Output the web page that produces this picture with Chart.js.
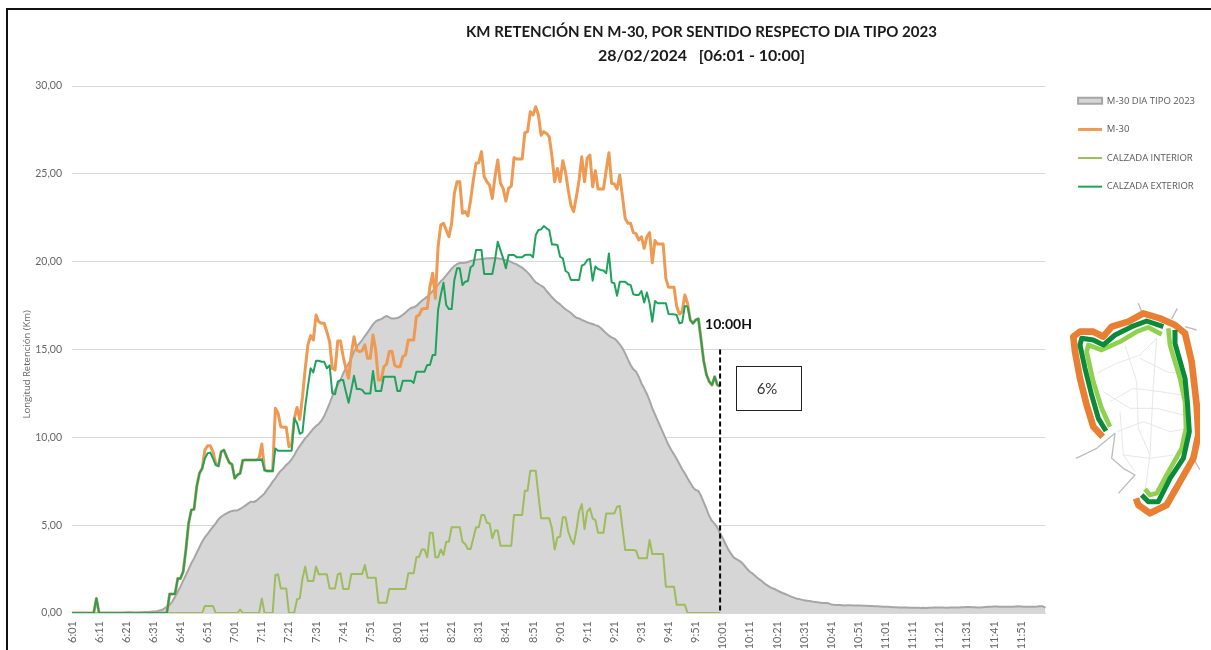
<!DOCTYPE html>
<html>
<head>
<meta charset="utf-8">
<script src="https://cdn.jsdelivr.net/npm/chart.js@4/dist/chart.umd.min.js"></script>
<style>
html,body{margin:0;padding:0;background:#fff;width:1211px;height:650px;overflow:hidden}
#wrap{position:relative;width:1211px;height:650px}
canvas{position:absolute;left:0;top:0}
#frame{position:absolute;left:6px;top:8px;right:-4px;bottom:-4px;border:2px solid #111;box-sizing:border-box;pointer-events:none}
#map{position:absolute;left:1060px;top:295px;width:140px;height:225px;filter:blur(.5px)}
</style>
</head>
<body>
<div id="wrap">
<canvas id="c" width="1211" height="650"></canvas>
<div id="frame"></div>
<svg id="map" viewBox="0 0 420 675" fill="none" stroke-linecap="butt" stroke-linejoin="round">
  <g stroke="#e2e2e2" stroke-width="2.5">
    <path d="M110 235L170 205L240 180L290 130M150 320L220 280L300 290L365 300M170 410L250 380L330 410L385 400M195 150L230 260L235 400L270 480L255 590M290 130L280 270L270 480M190 480L270 490L340 480M180 350L190 480L225 530M130 290L210 340L290 340L370 360M240 190L320 230L355 235"/>
  </g>
  <g stroke="#bdbdbd" stroke-width="4">
    <path d="M48 490L110 460L165 415L155 490L190 520L225 540L175 595M235 25L245 50M352 40L335 72M375 95L410 105M400 490L420 525M250 640L255 655"/>
  </g>
  <path stroke="#e87f33" stroke-width="20" d="M128 425L100 395L80 330L60 250L45 170L40 125L60 110L100 110L130 125L155 95L205 80L250 55L300 70L345 90L375 115L395 200L410 330L415 420L400 490L360 560L320 630L270 655L235 630L228 610"/>
  <path stroke="#8fd14f" stroke-width="14" d="M150 395L125 340L100 260L80 170L85 150L125 165L180 140L230 110L265 97L305 118M325 100L330 150L360 250L375 320L378 400L365 460L320 540L290 595L270 600L255 582"/>
  <path stroke="#0b8a3a" stroke-width="15" d="M138 408L115 370L95 300L75 220L60 150L65 130L100 135L130 150L165 120L215 95L260 78L310 95M345 105L345 145L375 250L382 320L388 410L370 490L330 550L295 620L265 620L245 600"/>
</svg>
</div>
<script>
const titleLine = "KM RETENCIÓN EN M-30, POR SENTIDO RESPECTO DIA TIPO 2023";
const subtitleLine = "28/02/2024   [06:01 - 10:00]";
const yAxisTitle = "Longitud Retención (Km)";
const cutLabel = "10:00H";
const pctLabel = "6%";
const cutTime = "10:00";
const cutTop = 15;

const times = [];
for (let h = 6; h < 12; h++) for (let m = 0; m < 60; m++) {
  const t = h * 60 + m + 1;
  times.push(Math.floor(t / 60) + ":" + String(t % 60).padStart(2, "0"));
}

const tipo2023 = [
0,0,0,0,0,0,0,0,0,0,
0,0,0,0,0,0,0,0,.01,.02,
.03,.04,.03,.02,.02,.03,.04,.05,.06,.07,
.08,.09,.13,.17,.25,.36,.46,.65,.93,1.21,
1.5,1.84,2.16,2.49,2.83,3.11,3.43,3.74,4.06,4.31,
4.5,4.72,4.91,5.1,5.33,5.48,5.58,5.67,5.75,5.81,
5.83,5.84,5.92,6.02,6.13,6.24,6.34,6.32,6.39,6.53,
6.66,6.81,7.04,7.23,7.48,7.67,7.91,8.1,8.24,8.43,
8.56,8.75,8.99,9.28,9.51,9.73,9.94,10.11,10.3,10.49,
10.65,10.76,10.95,11.21,11.56,11.94,12.35,12.7,12.98,13.26,
13.64,13.93,14.21,14.5,14.88,15.16,15.35,15.54,15.77,15.98,
16.2,16.43,16.6,16.68,16.72,16.83,16.91,16.83,16.76,16.76,
16.79,16.87,16.98,17.1,17.25,17.36,17.4,17.48,17.63,17.78,
17.89,18.01,18.16,18.33,18.5,18.69,18.88,19.03,19.22,19.41,
19.6,19.75,19.87,19.92,19.92,19.94,19.98,20.04,20.08,20.11,
20.13,20.15,20.17,20.19,20.19,20.21,20.19,20.19,20.17,20.13,
20.08,20.04,19.98,19.9,19.85,19.75,19.66,19.53,19.39,19.22,
19.01,18.82,18.73,18.63,18.54,18.33,18.16,17.97,17.82,17.68,
17.57,17.42,17.29,17.19,17.08,16.93,16.81,16.77,16.68,16.62,
16.55,16.49,16.45,16.39,16.34,16.22,16.07,15.92,15.79,15.69,
15.62,15.48,15.29,15.07,14.78,14.44,14.12,13.87,13.74,13.45,
13.07,12.79,12.47,12.09,11.65,11.3,10.95,10.6,10.25,9.9,
9.56,9.28,9.03,8.77,8.48,8.18,7.95,7.67,7.42,7.15,
7,6.95,6.66,6.28,5.92,5.52,5.24,5.07,4.86,4.54,
4.25,3.93,3.62,3.38,3.17,3.07,2.98,2.87,2.69,2.5,
2.35,2.24,2.11,1.97,1.86,1.73,1.61,1.52,1.42,1.37,
1.29,1.21,1.14,1.08,1.02,.95,.89,.83,.8,.76,
.72,.7,.68,.65,.63,.61,.59,.57,.57,.55,
.49,.47,.46,.45,.44,.43,.44,.44,.43,.43,
.42,.42,.41,.41,.4,.4,.39,.38,.37,.36,
.36,.35,.34,.33,.33,.32,.32,.31,.31,.3,
.3,.3,.3,.29,.3,.29,.3,.3,.31,.31,
.32,.31,.3,.3,.31,.31,.32,.32,.33,.33,
.34,.34,.33,.33,.32,.32,.33,.34,.35,.36,
.37,.37,.36,.36,.35,.35,.35,.36,.37,.38,
.37,.36,.36,.36,.36,.36,.37,.39,.38,.3
];

const m30 = [
0,0,0,0,0,0,0,0,0,.83,
0,0,0,0,0,0,0,0,0,0,
0,0,0,0,0,0,0,0,0,0,
0,0,0,0,0,0,1.08,1.08,1.08,1.97,
1.97,2.35,3.6,5.1,5.86,5.9,7.2,7.95,8.23,9.28,
9.52,9.52,9.18,8.5,8.37,9.18,9.28,8.9,8.56,8.46,
7.67,7.86,7.95,8.7,8.71,8.71,8.71,8.71,8.71,8.8,
9.62,8.14,8.08,8.08,8.08,11.65,11.37,10.6,10.57,10.57,
9.47,9.56,11.08,11.7,11.02,12.3,13.9,15.26,15.79,15.54,
16.96,16.58,16.49,16.49,16,15.45,13.93,13.83,15.48,15.48,
14.6,13.93,13.36,14.74,15.73,14.97,14.88,14.93,15.26,14.5,
14.5,15.83,14.97,13.26,13.26,14.02,14.17,14.88,14.9,14.1,
14.02,14.02,14.6,14.69,15.54,15.54,15.54,16.87,16.96,17.29,
17.34,17.34,18.58,19.34,17.91,20.85,22.09,22.18,21.8,21.42,
22.18,23.89,24.55,24.55,22.75,22.85,22.6,23.5,24.65,25.6,
25.63,26.26,24.84,24.55,24.36,23.6,24.84,25.79,24.46,24.17,
23.45,24.17,24.3,25.92,25.84,25.84,25.84,27.34,27.4,28.54,
28.35,28.82,28.35,27.2,27.4,27.3,27.1,26,24.55,25.3,
24.55,25.75,25.1,24.08,23.2,22.85,23.7,24.65,25.97,24.55,
25.9,26.07,24.27,25.18,24.14,24.14,24.14,25.2,26.2,24.46,
24.42,24.14,24.93,23.7,22.47,22.18,22.18,21.65,21.6,21.23,
21.42,20.76,21.42,21.65,19.94,21.2,21,21,21,19.05,
18.54,18.54,18.54,17.44,17.02,17.15,18.1,17.63,16.68,16.49,
16.68,16.75,15.54,14.3,13.55,13.17,12.98,13.45,12.98,12.9
];

const interior = [
0,0,0,0,0,0,0,0,0,0,
0,0,0,0,0,0,0,0,0,0,
0,0,0,0,0,0,0,0,0,0,
0,0,0,0,0,0,0,0,0,0,
0,0,0,0,0,0,0,0,0,.4,
.4,.4,.4,0,0,0,0,0,0,0,
0,0,.2,0,0,0,0,0,0,0,
.83,0,0,0,0,2.16,2.2,1.4,1.4,1.4,
0,0,.05,.78,.83,1.97,2.64,1.82,1.82,1.82,
2.64,2.2,2.2,2.2,2.2,1.4,1.4,1.4,2.2,2.26,
1.37,1.37,1.37,2.22,2.22,2.22,2.22,2.22,2.73,2.01,
2.01,2.01,2.01,.59,.59,.59,.59,1.37,1.37,1.37,
1.37,1.37,1.37,1.37,2.26,2.26,2.26,3.17,3.2,3.62,
3.62,3.17,4.57,4.57,3.17,3.17,3.62,3.3,4.06,4.06,
4.88,4.88,4.88,4.88,4.06,3.93,3.64,3.64,4.25,4.88,
4.88,5.58,5.58,5.14,5.1,4.25,4.69,4.69,3.83,3.83,
3.83,3.83,3.83,5.58,5.58,5.58,5.58,6.96,6.96,8.1,
8.1,8.1,6.72,5.39,5.39,5.39,5.39,4.82,3.62,4.3,
4.35,5.45,5.45,4.63,4.19,3.93,4.72,5.77,6.2,4.78,
5.77,5.96,5.39,5.29,4.57,4.57,4.57,5.67,5.67,5.67,
5.67,6.05,6.09,4.82,3.59,3.59,3.59,3.59,3.55,3.11,
3.11,3.11,3.11,4.16,3.36,3.36,3.36,3.36,3.36,1.5,
1.5,1.5,1.5,.47,.47,.47,.47,0,0,0,
0,0,0,0,0,0,0,0,0,0
];

const exterior = [
0,0,0,0,0,0,0,0,0,.83,
0,0,0,0,0,0,0,0,0,0,
0,0,0,0,0,0,0,0,0,0,
0,0,0,0,0,0,1.08,1.08,1.08,1.97,
1.97,2.35,3.6,5.1,5.86,5.9,7.2,7.95,8.23,8.8,
9.09,9.13,8.8,8.42,8.37,9.18,9.28,8.9,8.56,8.46,
7.67,7.86,7.95,8.7,8.71,8.71,8.71,8.71,8.71,8.71,
8.75,8.14,8.08,8.08,8.08,9.37,9.24,9.24,9.24,9.24,
9.24,9.24,11.08,10.8,10.2,10.3,11.75,12.9,13.93,13.7,
14.36,14.36,14.3,14.3,13.93,14.1,12.5,12.45,13.17,13.26,
13.26,12.6,11.97,12.7,13.5,12.75,12.75,12.7,12.5,12.5,
12.5,13.78,12.64,12.64,12.64,13.45,13.45,13.45,13.45,13.45,
12.64,12.64,13.22,13.22,13.22,13.22,13.1,13.74,13.74,13.74,
13.74,14.12,14.12,14.69,14.69,17.25,18.1,18.8,17.53,17.3,
17.3,18.96,19.62,19.62,18.67,18.86,18.9,19.68,19.8,20.66,
20.66,20.66,19.3,19.3,19.3,19.3,20.1,21.14,20.66,20.19,
19.62,20.38,20.38,20.38,20.25,20.25,20.25,20.38,20.4,20.4,
20.25,21.5,21.8,21.84,22.03,21.9,21.8,20.98,20.98,20.95,
20.28,20.19,19.47,19.37,18.96,18.96,18.96,18.96,19.77,19.85,
20.1,20.15,18.92,19.72,19.58,19.53,19.5,19.34,20.47,18.82,
18.77,18.06,18.86,18.86,18.86,18.71,18.67,18.14,18.1,18.1,
18.33,17.68,18.25,17.63,16.58,17.76,17.63,17.63,17.63,17.63,
17.02,17,17,16.96,16.49,16.53,17.48,17.44,16.68,16.49,
16.68,16.75,15.54,14.3,13.55,13.17,12.98,13.45,12.98,12.9
];

const placeBlocks = {
  id: "placeBlocks",
  afterLayout(chart) {
    chart.boxes.forEach((b) => {
      if (b === chart.legend) {
        b.left = 1059; b.right = 1211; b.width = 152;
        b.top = 77; b.bottom = 300; b.height = 223;
      } else if (b.options && b.options.text === titleLine) {
        b.left = 466; b.right = 937;
      } else if (b.options && b.options.text === subtitleLine) {
        b.left = 598; b.right = 805;
      }
    });
  },
  afterDatasetsDraw(chart) {
    const ctx = chart.ctx, x = chart.scales.x, y = chart.scales.y;
    const cx = x.getPixelForValue(times.indexOf(cutTime));
    ctx.save();
    ctx.fillStyle = "#111";
    ctx.font = "bold 14px Lato";
    ctx.textAlign = "left";
    ctx.textBaseline = "middle";
    ctx.fillText(cutLabel, cx - 15, y.getPixelForValue(cutTop) - 25);
    ctx.strokeStyle = "#222";
    ctx.lineWidth = 1;
    ctx.strokeRect(736.5, 366.5, 65, 44);
    ctx.fillStyle = "#333";
    ctx.font = "15px Lato";
    ctx.textAlign = "center";
    ctx.fillText(pctLabel, 767, 389);
    ctx.restore();
  }
};

new Chart(document.getElementById("c"), {
  type: "line",
  data: {
    labels: times,
    datasets: [
      { label: "M-30 DIA TIPO 2023", data: tipo2023, fill: "origin", backgroundColor: "#d6d6d6", borderColor: "#a6a6a6", borderWidth: 2, pointStyle: "rect", order: 4 },
      { label: "M-30", data: m30, borderColor: "#ee9a52", backgroundColor: "#ee9a52", borderWidth: 3, pointStyle: "line", order: 3 },
      { label: "CALZADA INTERIOR", data: interior, borderColor: "#9fbc5c", backgroundColor: "#9fbc5c", borderWidth: 2, pointStyle: "line", order: 2 },
      { label: "CALZADA EXTERIOR", data: exterior, borderColor: "#1fa35c", backgroundColor: "#1fa35c", borderWidth: 2, pointStyle: "line", order: 1 },
      { label: "corte", data: [{ x: cutTime, y: cutTop }, { x: cutTime, y: 0 }], borderColor: "#000", borderWidth: 2, borderDash: [5, 3], order: 0 }
    ]
  },
  options: {
    responsive: false,
    animation: false,
    elements: { point: { radius: 0 }, line: { tension: 0, borderJoinStyle: "round" } },
    layout: { padding: { left: 22, right: 165.5, top: 0, bottom: 0 } },
    plugins: {
      tooltip: { enabled: false },
      title: {
        display: true,
        text: titleLine,
        color: "#1a1a1a",
        font: { family: "Lato", size: 15, weight: "bold", lineHeight: 1.6 },
        padding: { top: 20, bottom: 0 }
      },
      subtitle: {
        display: true,
        text: subtitleLine,
        color: "#1a1a1a",
        font: { family: "Lato", size: 16, weight: "bold", lineHeight: 1.5 },
        padding: { top: 0, bottom: 18 }
      },
      legend: {
        position: "chartArea",
        align: "start",
        reverse: true,
        labels: {
          usePointStyle: true,
          pointStyleWidth: 24,
          boxHeight: 6,
          padding: 19.1,
          color: "#595959",
          font: { family: "Open Sans", size: 9.5 },
          filter: (item) => item.text !== "corte"
        }
      }
    },
    scales: {
      x: {
        offset: false,
        grid: { display: false, drawTicks: false },
        border: { color: "#d9d9d9" },
        afterFit(s) { s.height = 37; },
        ticks: {
          autoSkip: false,
          minRotation: 90,
          maxRotation: 90,
          padding: 8,
          color: "#666",
          font: { family: "Lato", size: 11 },
          callback(v, i) { return i % 10 === 0 ? this.getLabelForValue(v) : ""; }
        }
      },
      y: {
        min: 0,
        max: 30,
        grid: { color: "#d9d9d9", drawTicks: false },
        border: { display: false },
        afterFit(s) { s.width = 50; },
        title: {
          display: true,
          text: yAxisTitle + "            ",
          color: "#666",
          font: { family: "Open Sans", size: 9.5 },
          padding: 0
        },
        ticks: {
          stepSize: 5,
          padding: 10,
          color: "#666",
          font: { family: "Lato", size: 10.5 },
          callback(v) { return v.toFixed(2).replace(".", ","); }
        }
      }
    }
  },
  plugins: [placeBlocks]
});
</script>
</body>
</html>
